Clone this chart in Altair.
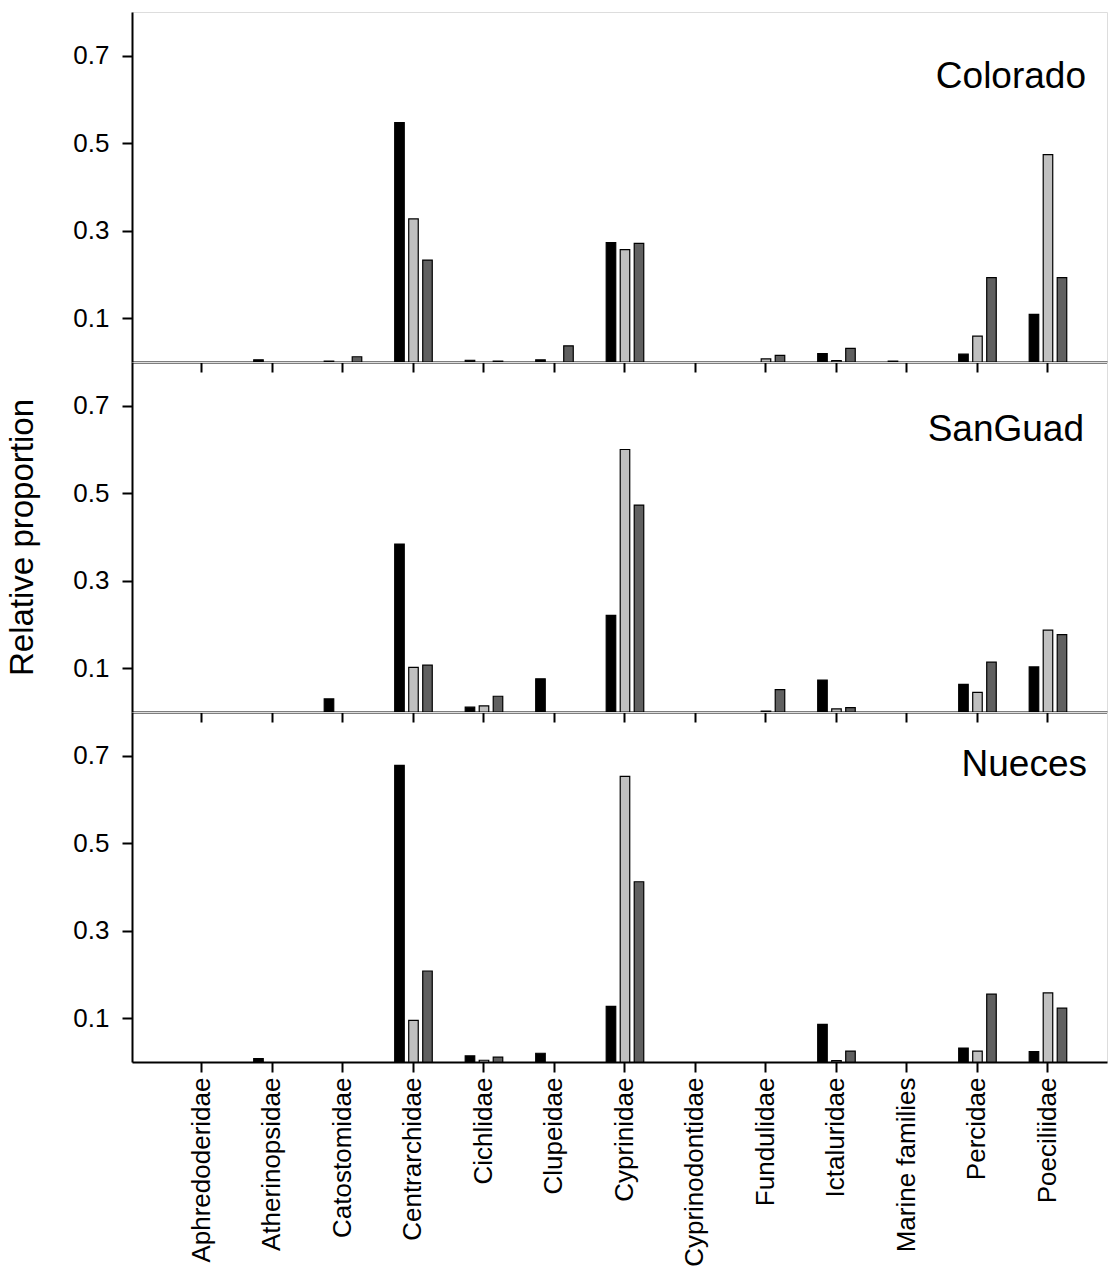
import altair as alt
import pandas as pd

families = ["Aphredoderidae", "Atherinopsidae", "Catostomidae", "Centrarchidae",
            "Cichlidae", "Clupeidae", "Cyprinidae", "Cyprinodontidae", "Fundulidae",
            "Ictaluridae", "Marine families", "Percidae", "Poeciliidae"]
groups = ["Group 1", "Group 2", "Group 3"]
group_colors = ["#000000", "#c0c0c0", "#606060"]
regions = ["Colorado", "SanGuad", "Nueces"]

colorado_g1 = [0, 0.005, 0.002, 0.547, 0.004, 0.005, 0.273, 0, 0, 0.019, 0.002, 0.018, 0.109]
colorado_g2 = [0, 0, 0, 0.327, 0, 0, 0.257, 0, 0.007, 0.003, 0, 0.059, 0.474]
colorado_g3 = [0, 0, 0.012, 0.233, 0.002, 0.037, 0.271, 0, 0.015, 0.031, 0, 0.193, 0.193]

sanguad_g1 = [0, 0, 0.030, 0.384, 0.011, 0.076, 0.221, 0, 0, 0.073, 0, 0.063, 0.103]
sanguad_g2 = [0, 0, 0, 0.102, 0.014, 0, 0.600, 0, 0.002, 0.007, 0, 0.045, 0.187]
sanguad_g3 = [0, 0, 0, 0.107, 0.036, 0, 0.473, 0, 0.051, 0.010, 0, 0.114, 0.177]

nueces_g1 = [0, 0.008, 0, 0.678, 0.014, 0.020, 0.127, 0, 0, 0.086, 0, 0.032, 0.024]
nueces_g2 = [0, 0, 0, 0.095, 0.004, 0, 0.653, 0, 0, 0.003, 0, 0.025, 0.158]
nueces_g3 = [0, 0, 0, 0.208, 0.011, 0, 0.412, 0, 0, 0.025, 0, 0.155, 0.123]

y_ticks = [0.1, 0.3, 0.5, 0.7]

FONT = "Liberation Sans"
W, H = 975, 350


def panel(name, series, bottom, ytitle, label_dx, label_y):
    rows = []
    for g, vals in zip(groups, series):
        for f, v in zip(families, vals):
            if v > 0:
                rows.append({"family": f, "group": g, "value": v})
    df = pd.DataFrame(rows)

    common = dict(tickSize=10, tickWidth=2, tickColor="black", domainColor="black",
                  domainWidth=2, grid=False)
    if bottom:
        xaxis = alt.Axis(title=None, labelAngle=-90, labelFontSize=26, labelFont=FONT,
                         labelColor="black", labelPadding=5, labelOverlap=False,
                         labelLimit=1000, **common)
    else:
        xaxis = alt.Axis(title=None, labels=False, **common)

    if ytitle:
        yaxis = alt.Axis(title=ytitle, titleFontSize=33, titleFont=FONT,
                         titleFontWeight="normal", titleColor="black", titlePadding=33,
                         values=y_ticks, format=".1f", labelFontSize=26, labelFont=FONT,
                         labelColor="black", labelPadding=13, **common)
    else:
        yaxis = alt.Axis(title=None, values=y_ticks, format=".1f", labelFontSize=26,
                         labelFont=FONT, labelColor="black", labelPadding=13, **common)

    bars = alt.Chart(df).mark_bar(stroke="black", strokeWidth=1.2).encode(
        x=alt.X("family:N", sort=families,
                scale=alt.Scale(domain=families, paddingInner=0.404, paddingOuter=0.617, align=0.563),
                axis=xaxis),
        xOffset=alt.XOffset("group:N", sort=groups,
                            scale=alt.Scale(domain=groups, paddingInner=0.32, paddingOuter=0.16)),
        y=alt.Y("value:Q", scale=alt.Scale(domain=[0, 0.8], nice=False, zero=True), axis=yaxis),
        color=alt.Color("group:N", scale=alt.Scale(domain=groups, range=group_colors), legend=None),
    )
    label = alt.Chart(pd.DataFrame({"region": [name]})).mark_text(
        align="right", baseline="alphabetic", font=FONT, fontSize=37, color="black"
    ).encode(text="region:N", x=alt.value(W - label_dx), y=alt.value(label_y))
    return alt.layer(bars, label).properties(width=W, height=H)


p1 = panel(regions[0], [colorado_g1, colorado_g2, colorado_g3], False, None, 21, 76)
p2 = panel(regions[1], [sanguad_g1, sanguad_g2, sanguad_g3], False, "Relative proportion", 23, 79)
p3 = panel(regions[2], [nueces_g1, nueces_g2, nueces_g3], True, None, 20, 64)

chart = alt.vconcat(p1, p2, p3, spacing=0, bounds="flush").properties(
    padding={"left": 6, "top": 11, "right": 0, "bottom": 0}
).configure_view(stroke="black", strokeWidth=2).configure(background="white")

chart.save("out.html", embed_options={"renderer": "svg", "actions": False})
